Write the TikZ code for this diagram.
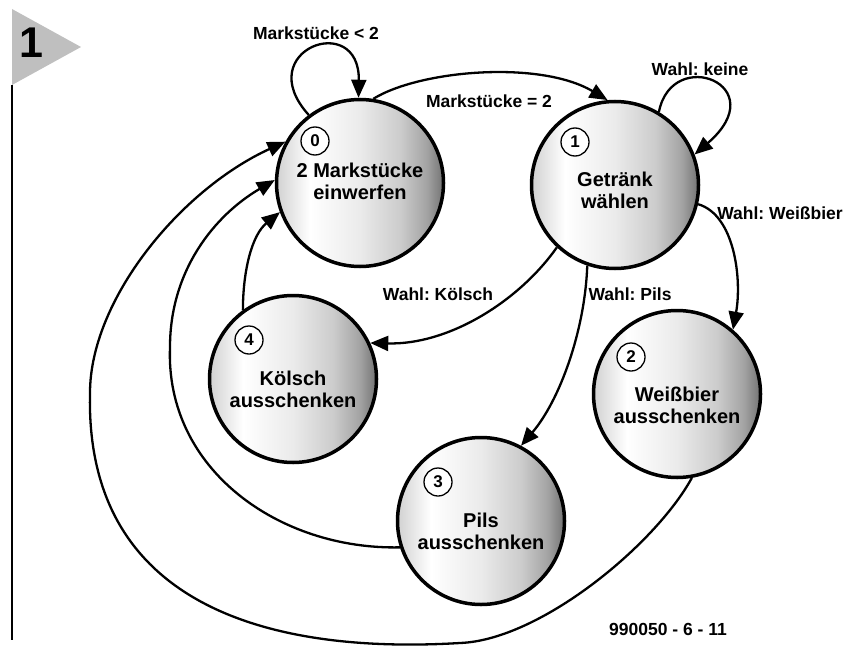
\documentclass[tikz,border=0pt]{standalone}
\usepackage{fontspec}
\setmainfont{Liberation Sans}
\usetikzlibrary{arrows.meta}
\frenchspacing
\pgfdeclarehorizontalshading{ballshade}{100bp}{color(0bp)=(black!18); color(25bp)=(black!18); color(35bp)=(white); color(50bp)=(black!8); color(62bp)=(black!20); color(70bp)=(black!36); color(75bp)=(black!55); color(100bp)=(black!55)}
\tikzset{
  state/.style={circle, draw, line width=3.5pt, minimum size=167pt, inner sep=0pt, shading=ballshade},
  stext/.style={align=center, inner sep=0pt, font=\fontsize{20}{22}\selectfont\bfseries},
  num/.style={circle, draw, line width=1.3pt, fill=white, minimum size=28pt, inner sep=0pt, font=\fontsize{17}{17}\selectfont\bfseries},
  lbl/.style={font=\fontsize{17.5}{19}\selectfont\bfseries, inner sep=1pt},
  conn/.style={line width=2.3pt, -{Triangle[length=18pt,width=15pt]}},
}
\begin{document}
\begin{tikzpicture}[x=1pt,y=-1pt]
\useasboundingbox (0,0) rectangle (861,650);
% figure marker
\fill[black!25] (12,9) -- (81,47) -- (12,85) -- cycle;
\node[font=\fontsize{43}{43}\selectfont\bfseries, inner sep=0pt] (fignum) at (31,43) {1};
\draw[line width=2.5pt] (12,85) -- (12,640);
% states
\node[state] (c0) at (360,183) {};
\node[state] (c1) at (615,185) {};
\node[state] (c2) at (677,394) {};
\node[state] (c3) at (481,521) {};
\node[state] (c4) at (293,379) {};
\node[stext] (t0) at (360,181) {2 Markstücke\\einwerfen};
\node[stext] (t1) at (615,190) {Getränk\\wählen};
\node[stext] (t2) at (677,405) {Weißbier\\ausschenken};
\node[stext] (t3) at (481,531) {Pils\\ausschenken};
\node[stext] (t4) at (293,389) {Kölsch\\ausschenken};
\node[num] (n0) at (315,141) {0};
\node[num] (n1) at (575,142) {1};
\node[num] (n2) at (631,357) {2};
\node[num] (n3) at (438,482) {3};
\node[num] (n4) at (249,340) {4};
% connectors
\draw[conn] (c0.127) .. controls (250,50) and (360,10) .. (c0.91);
\draw[conn] (c0.81) .. controls (420,70) and (540,60) .. (c1.95);
\draw[conn] (c1.59) .. controls (672,45) and (775,85) .. (c1.21);
\draw[conn] (c1.-13) .. controls (735,215) and (742,280) .. (c2.49);
\draw[conn] (c1.227) .. controls (520,300) and (450,345) .. (c4.25);
\draw[conn] (c1.251) .. controls (585,330) and (560,400) .. (c3.62);
\draw[conn] (c4.126) .. controls (243,270) and (252,235) .. (c0.200);
\draw[conn] (c3.198) .. controls (280,550) and (165,470) .. (170,347)
  .. controls (170,270) and (215,215) .. (c0.178);
\draw[conn] (c2.280) .. controls (655,545) and (540,640) .. (460,643)
  .. controls (260,655) and (85,600) .. (90,393)
  .. controls (90,300) and (180,190) .. (c0.151);
% labels
\node[lbl] (l0) at (316,33) {Markstücke < 2};
\node[lbl] (l01) at (489,101) {Markstücke = 2};
\node[lbl] (l1) at (700,69) {Wahl: keine};
\node[lbl] (l12) at (780,213) {Wahl: Weißbier};
\node[lbl] (l14) at (438,294) {Wahl: Kölsch};
\node[lbl] (l13) at (630,294) {Wahl: Pils};
\node[lbl] (code) at (668,629) {990050 - 6 - 11};
\end{tikzpicture}
\end{document}
